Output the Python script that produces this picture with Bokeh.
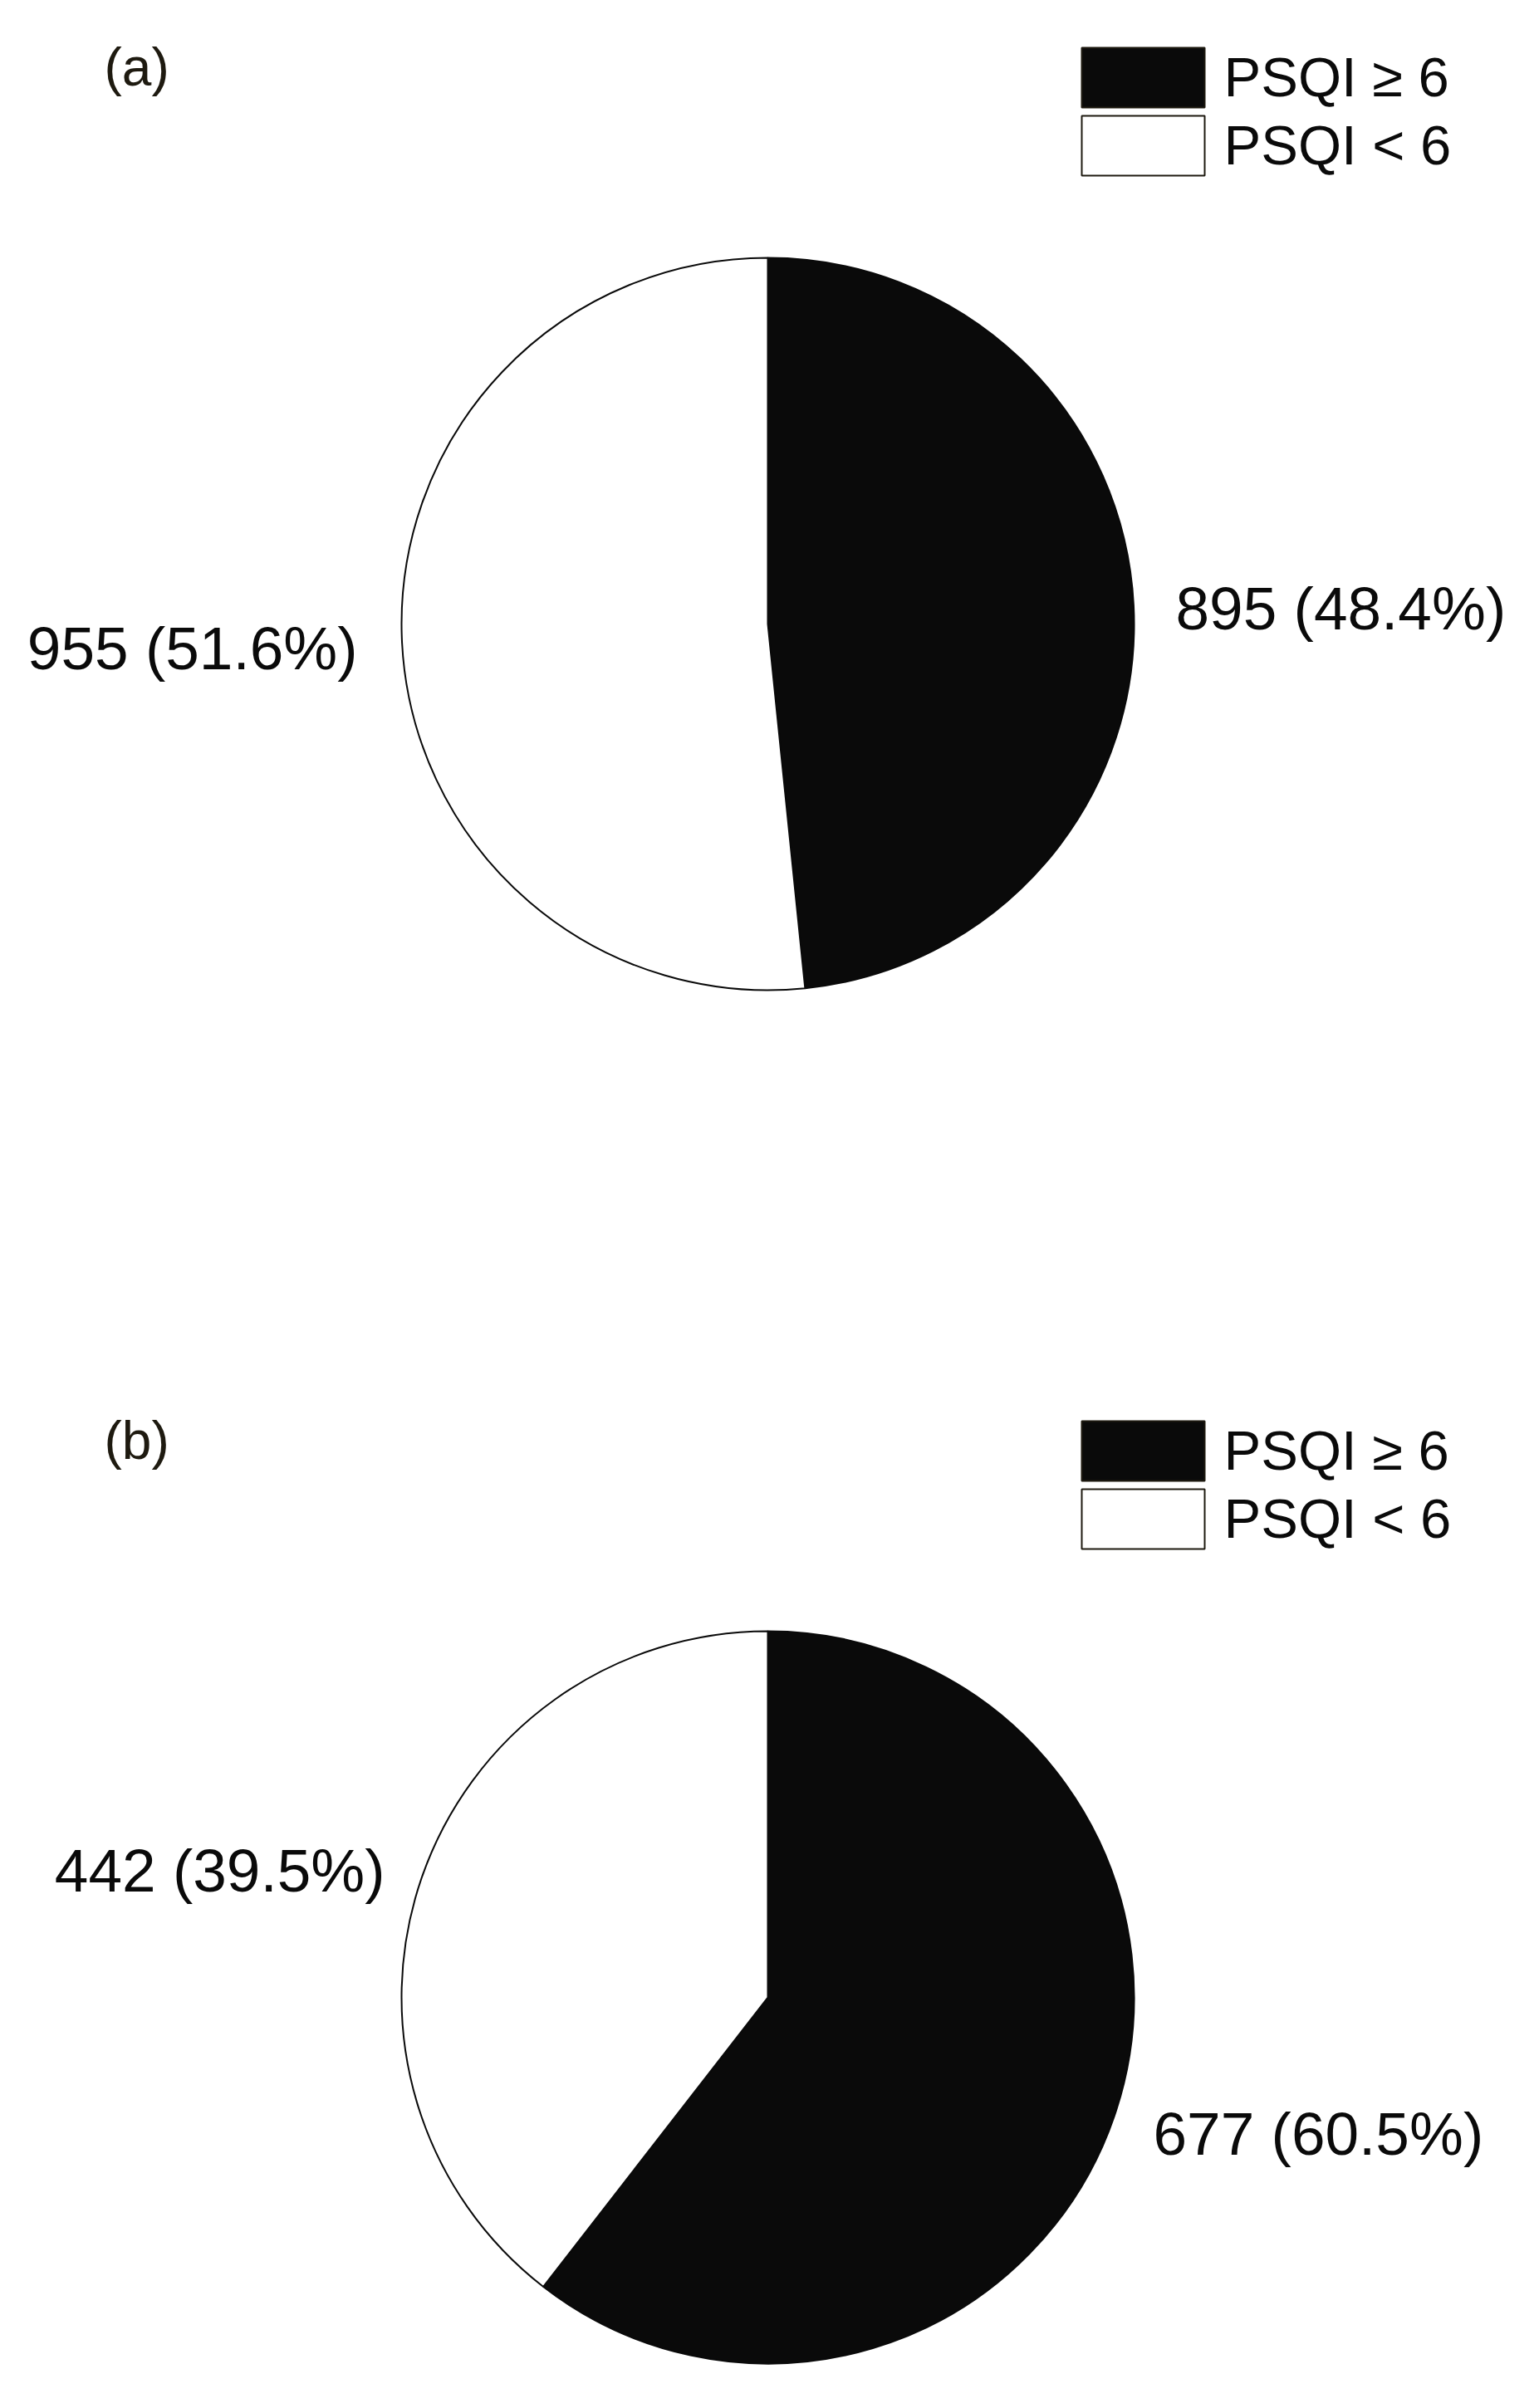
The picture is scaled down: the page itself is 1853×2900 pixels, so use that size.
import math
from bokeh.plotting import figure
from bokeh.models import Range1d
from bokeh.core.properties import value
from bokeh.embed import file_html
from bokeh.resources import INLINE

# ---- data ----
categories = ["PSQI \u2265 6", "PSQI < 6"]
panel_labels = ["(a)", "(b)"]
values_a = [895, 955]
values_b = [677, 442]
colors = ["#0a0a0a", "#ffffff"]

W, H = 1837, 2880
PAGE_H = 2900
FONT = value("Liberation Sans")
INK = "#0a0a0a"
TXT_DY = -23  # renderer baseline correction (page px)


def Y(page_y):
    return PAGE_H - page_y


def YT(page_y):
    return PAGE_H - (page_y + TXT_DY)


p = figure(width=W, height=H, output_backend="svg", toolbar_location=None,
           x_range=Range1d(0, W), y_range=Range1d(PAGE_H - H, PAGE_H),
           min_border=0)
p.axis.visible = False
p.grid.visible = False
p.outline_line_color = None
p.background_fill_color = "white"

panels = [
    dict(vals=values_a, label=panel_labels[0], cx=924, cy=751, r=441,
         lab_y=103, leg_top=57,
         txt=[(1415, 755, "left"), (430, 803, "right")]),
    dict(vals=values_b, label=panel_labels[1], cx=924, cy=2405, r=441,
         lab_y=1757, leg_top=1711,
         txt=[(1388, 2592, "left"), (463, 2275, "right")]),
]

for pan in panels:
    vals = pan["vals"]
    total = sum(vals)
    start = math.pi / 2
    starts, ends = [], []
    for v in vals:
        end = start - 2 * math.pi * v / total
        starts.append(start)
        ends.append(end)
        start = end
    p.wedge(x=[pan["cx"]] * len(vals), y=[Y(pan["cy"])] * len(vals), radius=pan["r"],
            start_angle=starts, end_angle=ends, direction="clock",
            fill_color=colors, line_color=INK, line_width=2)
    # value labels
    for (tx, ty, align), v in zip(pan["txt"], vals):
        p.text(x=[tx], y=[YT(ty)], text=[f"{v} ({100 * v / total:.1f}%)"],
               text_font=FONT, text_font_size="73px", text_color=INK,
               text_align=align, text_baseline="alphabetic")
    # panel label
    p.text(x=[125], y=[YT(pan["lab_y"])], text=[pan["label"]], text_font=FONT,
           text_font_size="64px", text_color="#1e1a10", text_baseline="alphabetic")
    # legend
    top = pan["leg_top"]
    for i, cat in enumerate(categories):
        t = top + i * 82
        p.quad(left=[1302], right=[1450], top=[Y(t)], bottom=[Y(t + 72)],
               fill_color=colors[i], line_color="#1e1a10", line_width=2)
        p.text(x=[1473], y=[YT(t + 58)], text=[cat], text_font=FONT,
               text_font_size="67px", text_color=INK, text_baseline="alphabetic")

open("out.html", "w").write(file_html(p, INLINE))
